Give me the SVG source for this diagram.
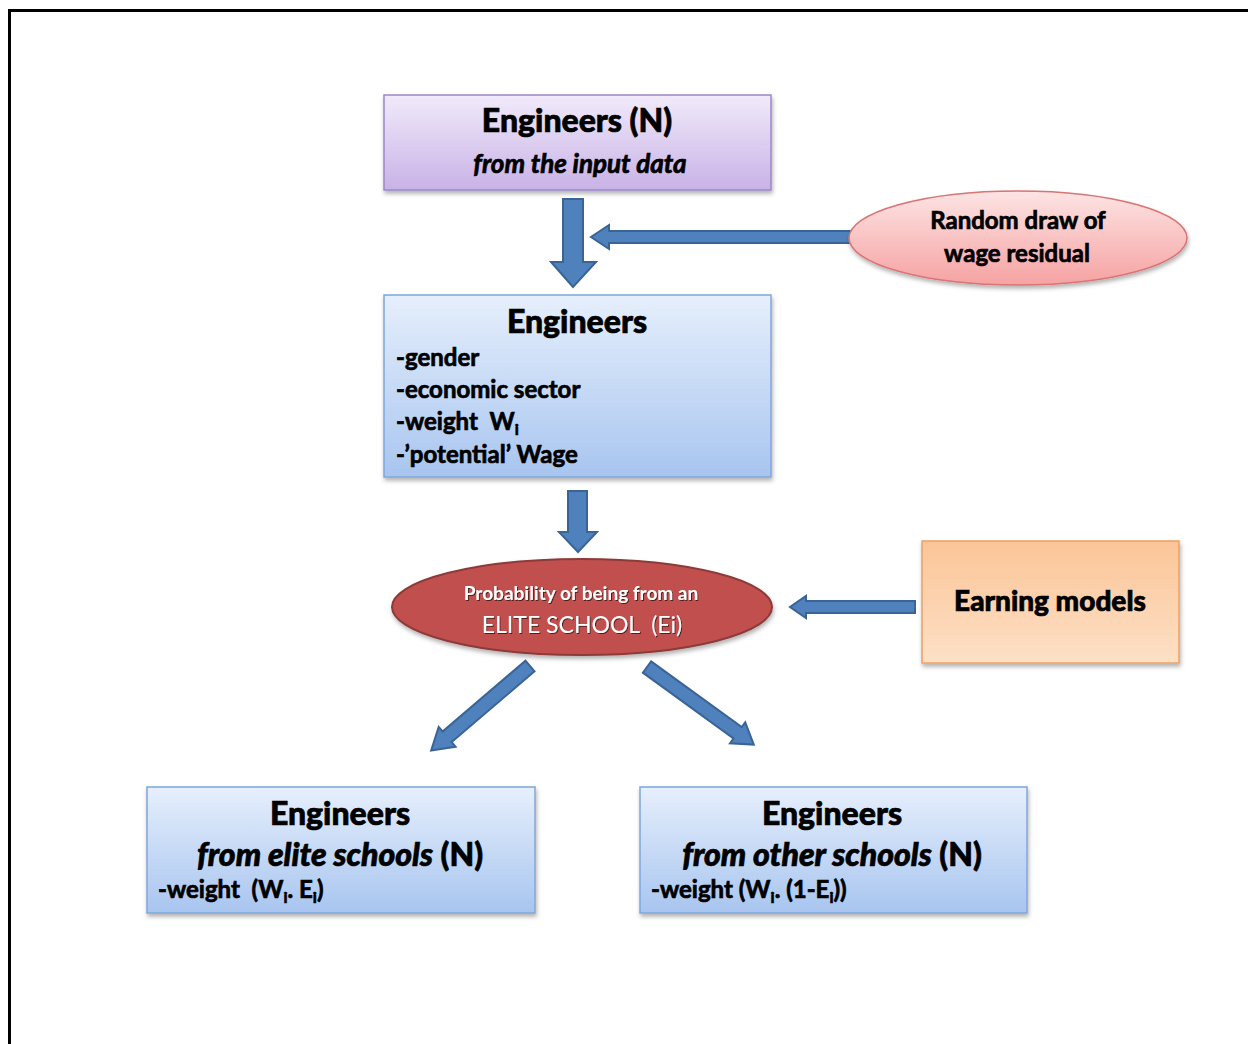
<svg xmlns="http://www.w3.org/2000/svg" width="1248" height="1044" viewBox="0 0 1248 1044">
<defs>
<linearGradient id="gPurple" x1="0" y1="0" x2="0" y2="1"><stop offset="0" stop-color="#f1eafa"/><stop offset="1" stop-color="#c8b2e6"/></linearGradient>
<linearGradient id="gBlue" x1="0" y1="0" x2="0" y2="1"><stop offset="0" stop-color="#e6effc"/><stop offset="1" stop-color="#a8c5ef"/></linearGradient>
<linearGradient id="gPink" x1="0" y1="0" x2="0" y2="1"><stop offset="0" stop-color="#fde4e4"/><stop offset="1" stop-color="#f6a2a2"/></linearGradient>
<linearGradient id="gOrange" x1="0" y1="0" x2="0" y2="1"><stop offset="0" stop-color="#fbc597"/><stop offset="1" stop-color="#fde0c6"/></linearGradient>
<filter id="sh" x="-10%" y="-10%" width="125%" height="130%"><feDropShadow dx="1" dy="3" stdDeviation="2" flood-color="#000" flood-opacity="0.3"/></filter>
<filter id="tsh" x="-10%" y="-30%" width="120%" height="160%"><feDropShadow dx="1" dy="1" stdDeviation="0.6" flood-color="#000" flood-opacity="0.6"/></filter>
</defs>
<style>
.t{font-family:Lato,"Liberation Sans",sans-serif;fill:#000;stroke:#000;stroke-width:0.7}
.h{font-size:32px;font-weight:900}
.s{font-size:24px;font-weight:700}
.i{font-style:italic}
.w{fill:#fff;stroke:none}
.arr{fill:#4f81bd;stroke:#3a6496;stroke-width:2;stroke-linejoin:miter}
</style>
<path d="M9.5 1044 V10.5 H1248" fill="none" stroke="#000" stroke-width="3"/>
<g id="connectors">
<path class="arr" d="M563 199 H583 V262 H596 L573 287 L551 262 H563 Z"/>
<path class="arr" d="M850 231 V243 H609 V249 L591 237 L609 225 V231 Z"/>
<path class="arr" d="M568 491 H587 V532 H597 L578 552 L559 532 H568 Z"/>
<path class="arr" d="M915 601 V613 H806 V618 L790 607 L806 596 V601 Z"/>
<path class="arr" transform="translate(530 666) rotate(139.5)" d="M0 -7 H109 V-13 L130 0 L109 13 V7 H0 Z"/>
<path class="arr" transform="translate(647 667) rotate(36)" d="M0 -7 H112 V-13 L132 0 L112 13 V7 H0 Z"/>
</g>
<g id="node-input">
<rect x="384" y="95" width="387" height="95" fill="url(#gPurple)" stroke="#9a88c8" stroke-width="1.5" filter="url(#sh)"/>
<text class="t h" x="577" y="132" text-anchor="middle">Engineers (N)</text>
<text class="t i" x="580" y="173" text-anchor="middle" font-size="26" font-weight="700">from the input data</text>
</g>
<g id="node-random">
<ellipse cx="1018" cy="238" rx="169" ry="47" fill="url(#gPink)" stroke="#d87474" stroke-width="1.5" filter="url(#sh)"/>
<text class="t s" x="1018" y="229" text-anchor="middle">Random draw of</text>
<text class="t s" x="1017" y="262" text-anchor="middle">wage residual</text>
</g>
<g id="node-engineers">
<rect x="384" y="295" width="387" height="182" fill="url(#gBlue)" stroke="#7fa7dc" stroke-width="1.5" filter="url(#sh)"/>
<text class="t h" x="577" y="333" text-anchor="middle">Engineers</text>
<text class="t s" x="396" y="366">-gender</text>
<text class="t s" x="396" y="398">-economic sector</text>
<text class="t s" x="396" y="430" xml:space="preserve">-weight  W<tspan font-size="16" dy="5">i</tspan></text>
<text class="t s" x="396" y="463">-’potential’ Wage</text>
</g>
<g id="node-elite-prob">
<ellipse cx="582" cy="607" rx="190" ry="48" fill="#c0504d" stroke="#8c3a38" stroke-width="2" filter="url(#sh)"/>
<text class="t w" x="581" y="600" text-anchor="middle" font-size="19" font-weight="700" filter="url(#tsh)">Probability of being from an</text>
<text class="t w" x="582" y="633" text-anchor="middle" font-size="23" font-weight="400" filter="url(#tsh)" xml:space="preserve">ELITE SCHOOL  (Ei)</text>
</g>
<g id="node-earning">
<rect x="922" y="541" width="257" height="122" fill="url(#gOrange)" stroke="#f0a060" stroke-width="1.5" filter="url(#sh)"/>
<text class="t" x="1050" y="611" text-anchor="middle" font-size="28" font-weight="900">Earning models</text>
</g>
<g id="node-elite">
<rect x="147" y="787" width="388" height="126" fill="url(#gBlue)" stroke="#7fa7dc" stroke-width="1.5" filter="url(#sh)"/>
<text class="t h" x="340" y="825" text-anchor="middle">Engineers</text>
<text class="t h" x="340" y="866" text-anchor="middle" font-size="33"><tspan class="i">from elite schools</tspan> (N)</text>
<text class="t s" x="158" y="898" xml:space="preserve">-weight  (W<tspan font-size="16" dy="5">i</tspan><tspan dy="-5">. E</tspan><tspan font-size="16" dy="5">i</tspan><tspan dy="-5">)</tspan></text>
</g>
<g id="node-other">
<rect x="640" y="787" width="387" height="126" fill="url(#gBlue)" stroke="#7fa7dc" stroke-width="1.5" filter="url(#sh)"/>
<text class="t h" x="832" y="825" text-anchor="middle">Engineers</text>
<text class="t h" x="832" y="866" text-anchor="middle" font-size="33"><tspan class="i">from other schools</tspan> (N)</text>
<text class="t s" x="651" y="898" xml:space="preserve">-weight (W<tspan font-size="16" dy="5">i</tspan><tspan dy="-5">. (1-E</tspan><tspan font-size="16" dy="5">i</tspan><tspan dy="-5">))</tspan></text>
</g>
</svg>
